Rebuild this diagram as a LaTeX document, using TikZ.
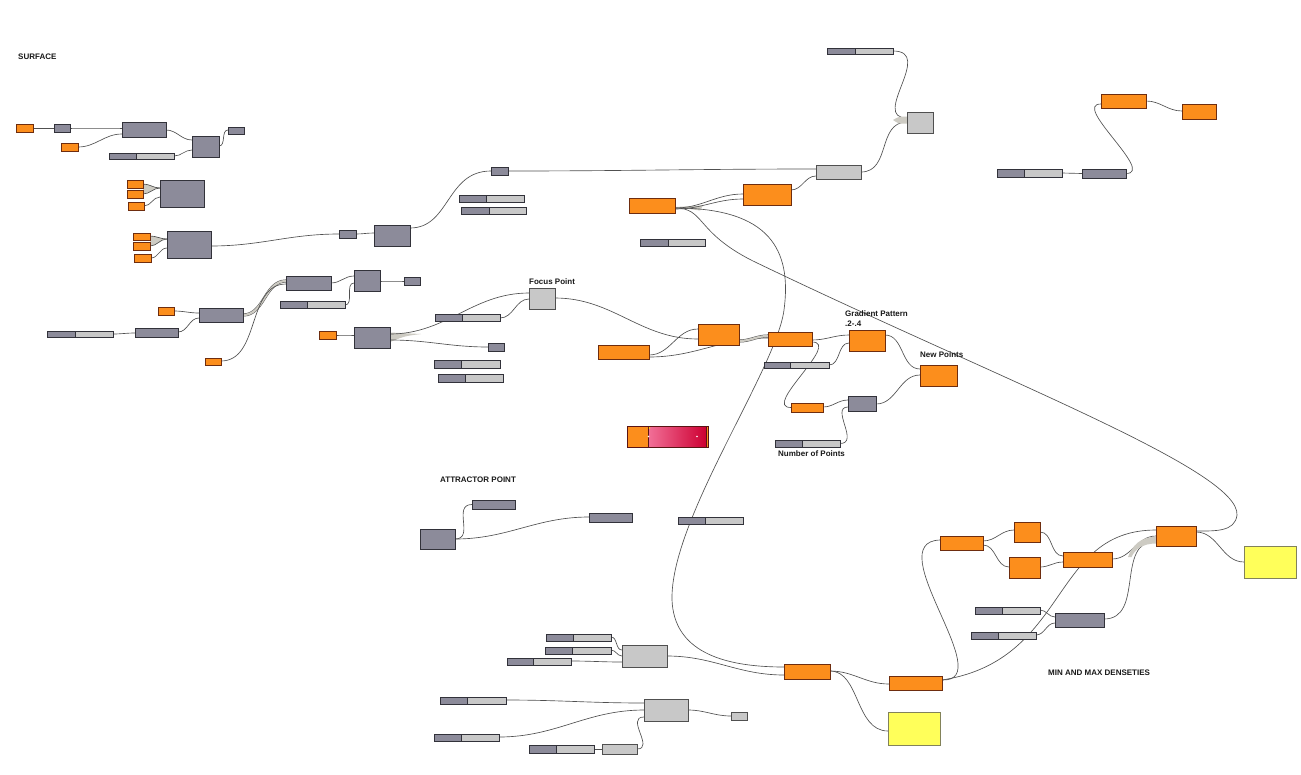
\documentclass[tikz,border=0pt]{standalone}
\usepackage{fontspec}
\setmainfont{Liberation Sans}
\usetikzlibrary{calc}
\definecolor{orF}{RGB}{252,142,28}
\definecolor{orD}{RGB}{110,45,15}
\definecolor{dkF}{RGB}{140,139,154}
\definecolor{dkD}{RGB}{50,50,58}
\definecolor{ltF}{RGB}{200,200,200}
\definecolor{ltD}{RGB}{80,80,80}
\definecolor{ylF}{RGB}{255,255,90}
\definecolor{ylD}{RGB}{130,130,90}
\definecolor{wireC}{RGB}{80,80,80}
\definecolor{bandC}{RGB}{205,203,195}
\definecolor{txtC}{RGB}{25,25,25}
\definecolor{gPink}{RGB}{242,112,152}
\definecolor{gRed}{RGB}{205,0,50}
\definecolor{gD}{RGB}{90,20,20}
\pgfdeclarelayer{bg}
\pgfsetlayers{bg,main}
\tikzset{
 base/.style={inner sep=0pt,outer sep=0pt,line width=0.8pt,anchor=north west},
 ob/.style={base,fill=orF,draw=orD},
 db/.style={base,fill=dkF,draw=dkD},
 lb/.style={base,fill=ltF,draw=ltD},
 yb/.style={base,fill=ylF,draw=ylD},
 sb/.style={base,fill=ltF,draw=dkD},
 wire/.style={draw=wireC,line width=0.65pt},
 band/.style={draw=wireC,line width=0.45pt,double=bandC,double distance=2.2pt},
 lbl/.style={inner sep=0pt,anchor=west,font=\bfseries\fontsize{8}{9.6}\selectfont,text=txtC},
}
\newcommand\bx[6]{\node[#1,minimum width={(#5-#3)*1pt},minimum height={(#6-#4)*1pt}] (#2) at (#3,#4) {};}
\newcommand\slid[6]{%
 \bx{sb}{#1}{#2}{#3}{#4}{#5}
 \fill[dkF] (#2,#3) rectangle (#6,#5);
 \draw[draw=dkD,line width=0.8pt] (#2,#3) rectangle (#4,#5) (#6,#3) -- (#6,#5);}
\newcommand\wc[4]{\draw[wire] (#1.east |- 0,#2) to[out=0,in=180] (#3.west |- 0,#4);}
\newcommand\wdg[6]{%
 \fill[bandC] (#1.east |- 0,#2) to[out=0,in=180] (#5.west |- 0,#6) to[out=180,in=0] (#3.east |- 0,#4) -- cycle;
 \draw[wire] (#1.east |- 0,#2) to[out=0,in=180] (#5.west |- 0,#6);
 \draw[wire] (#3.east |- 0,#4) to[out=0,in=180] (#5.west |- 0,#6);}
\begin{document}
\begin{tikzpicture}[x=1pt,y=-1pt]
\useasboundingbox (0,0) rectangle (1301,774);
\begin{pgfonlayer}{bg}
\fill[white] (0,0) rectangle (1301,774);
\end{pgfonlayer}
% ---------- SURFACE group
\bx{ob}{o1}{16}{124}{33}{132}
\bx{db}{d1}{54}{124}{70}{132}
\bx{db}{d2}{122}{122}{166}{137}
\bx{ob}{o2}{61}{143}{78}{151}
\slid{s1}{109}{153}{174}{159}{136}
\bx{db}{d3}{192}{136}{219}{157}
\bx{db}{d4}{228}{127}{244}{134}
\bx{db}{d5}{160}{180}{204}{207}
\bx{ob}{o3}{127}{180}{143}{188}
\bx{ob}{o4}{127}{190}{143}{198}
\bx{ob}{o5}{128}{202}{144}{210}
\bx{db}{d6}{167}{231}{211}{258}
\bx{ob}{o6}{133}{233}{150}{240}
\bx{ob}{o7}{133}{242}{150}{250}
\bx{ob}{o8}{134}{254}{151}{262}
\bx{db}{dd7}{339}{230}{356}{238}
\bx{db}{d8}{374}{225}{410}{246}
\bx{db}{dd9}{491}{167}{508}{175}
\slid{s2}{459}{195}{524}{202}{486}
\slid{s3}{461}{207}{526}{214}{489}
\bx{ob}{o9}{158}{307}{174}{315}
\bx{db}{d10}{199}{308}{243}{322}
\slid{s4}{47}{331}{113}{337}{75}
\bx{db}{d11}{135}{328}{178}{337}
\bx{ob}{o10}{205}{358}{221}{365}
\bx{db}{d12}{286}{276}{331}{290}
\slid{s5}{280}{301}{345}{308}{307}
\bx{db}{d13}{354}{270}{380}{291}
\bx{db}{dd14}{404}{277}{420}{285}
\bx{ob}{o11}{319}{331}{336}{339}
\bx{db}{d15}{354}{327}{390}{348}
\slid{s6}{435}{314}{500}{321}{462}
\bx{lb}{fp}{529}{288}{555}{309}
\bx{db}{dd16}{488}{343}{504}{351}
\slid{s7}{434}{360}{500}{368}{461}
\slid{s8}{438}{374}{503}{382}{465}
% ---------- centre group
\bx{ob}{o12}{698}{324}{739}{345}
\bx{ob}{o13}{598}{345}{649}{359}
\bx{ob}{o14}{768}{332}{812}{346}
\slid{s9}{764}{362}{829}{368}{790}
\bx{ob}{og}{849}{330}{885}{351}
\bx{ob}{onp}{920}{365}{957}{386}
\bx{ob}{os}{791}{403}{823}{412}
\bx{db}{dn}{848}{396}{876}{411}
\slid{s10}{775}{440}{840}{447}{802}
% gradient widget
\bx{ob}{gw}{627}{426}{708}{447}
\shade[left color=gPink,right color=gRed] (648,426) rectangle (706,447);
\draw[draw=gD,line width=0.8pt] (627,426) rectangle (708,447) (648,426) -- (648,447) (706,426) -- (706,447);
\fill[yellow!80!orange] (649.5,428) circle (0.9pt);
\fill[white] (648.5,436.5) circle (0.8pt);
\fill[white] (697,436.5) circle (0.8pt);
% ---------- top group
\slid{s11}{827}{48}{893}{54}{855}
\bx{lb}{sq}{907}{112}{933}{133}
\bx{lb}{l1}{816}{165}{861}{179}
\bx{ob}{o15}{743}{184}{791}{205}
\bx{ob}{o16}{629}{198}{675}{213}
\slid{s12}{640}{239}{705}{246}{668}
\bx{ob}{o17}{1101}{94}{1146}{108}
\bx{ob}{o18}{1182}{104}{1216}{119}
\slid{s13}{997}{169}{1062}{177}{1024}
\bx{db}{d17}{1082}{169}{1126}{178}
% ---------- attractor
\bx{db}{ata}{420}{529}{455}{549}
\bx{db}{atb}{472}{500}{515}{509}
\bx{db}{atc}{589}{513}{632}{522}
\slid{s14}{678}{517}{743}{524}{705}
% ---------- bottom group
\slid{s15}{546}{634}{611}{641}{573}
\slid{s16}{545}{647}{611}{654}{572}
\slid{s17}{507}{658}{571}{665}{533}
\bx{lb}{lbb}{622}{645}{667}{667}
\slid{s18}{440}{697}{506}{704}{467}
\slid{s19}{434}{734}{499}{741}{461}
\slid{s20}{529}{745}{594}{753}{556}
\bx{lb}{lc}{602}{744}{637}{754}
\bx{lb}{ld}{644}{699}{688}{721}
\bx{lb}{le}{731}{712}{747}{720}
\bx{ob}{ob1}{784}{664}{830}{679}
\bx{ob}{ob2}{889}{676}{942}{690}
\bx{yb}{yb1}{888}{712}{940}{745}
% ---------- right group
\bx{ob}{o20}{940}{536}{983}{550}
\bx{ob}{o21}{1014}{522}{1040}{542}
\bx{ob}{o22}{1009}{557}{1040}{578}
\bx{ob}{o23}{1063}{552}{1112}{567}
\bx{ob}{o24}{1156}{526}{1196}{546}
\bx{yb}{yb2}{1244}{546}{1296}{578}
\slid{s21}{975}{607}{1040}{614}{1002}
\slid{s22}{971}{632}{1036}{639}{998}
\bx{db}{d20}{1055}{613}{1104}{627}
% ---------- labels
\node[lbl] (tsurf) at (18,57) {SURFACE};
\node[lbl] (tfocus) at (529,282) {Focus Point};
\node[lbl] (tgrad) at (845,314) {Gradient Pattern};
\node[lbl] (tgrad2) at (845,323.5) {.2-.4};
\node[lbl] (tnew) at (920,355) {New Points};
\node[lbl] (tnum) at (778,454) {Number of Points};
\node[lbl] (tattr) at (440,480) {ATTRACTOR POINT};
\node[lbl] (tmin) at (1048,673) {MIN AND MAX DENSETIES};
% ---------- wires
\begin{pgfonlayer}{bg}
\draw[wire] (o1.east) -- (d1.west);
\wc{d1}{128}{d2}{128}
\wc{o2}{147}{d2}{134}
\wc{d2}{130}{d3}{140}
\wc{s1}{156}{d3}{150}
\wc{d3}{146}{d4}{130}
\wdg{o3}{184}{o4}{194}{d5}{188}
\wc{o5}{206}{d5}{197}
\wdg{o6}{236}{o7}{246}{d6}{239}
\wc{o8}{258}{d6}{248}
\wc{d6}{246}{dd7}{234}
\wc{dd7}{234}{d8}{233}
\draw[wire] (d8.east |- 0,228) .. controls +(40,0) and +(-45,0) .. (dd9.west);
\wc{dd9}{171}{l1}{169}
\wc{o9}{311}{d10}{313}
\wc{s4}{334}{d11}{333}
\wc{d11}{332}{d10}{318}
\draw[band] (d10.east |- 0,315) to[out=0,in=180] (d12.west |- 0,281);
\wc{o10}{361}{d12}{284}
\wc{d12}{283}{d13}{276}
\wc{s5}{305}{d13}{283}
\wc{d13}{281}{dd14}{281}
\wc{o11}{335}{d15}{335}
\fill[bandC] (d15.east |- 0,332.5) .. controls (405,333) .. (421,334) .. controls (405,336) .. (d15.east |- 0,342) -- cycle;
\wc{d15}{334}{fp}{293}
\wc{d15}{340}{dd16}{347}
\wc{s6}{318}{fp}{299}
\draw[wire] (fp.east |- 0,298) to[out=0,in=180] (o12.west |- 0,339);
\wc{o13}{355}{o12}{329}
\wc{o13}{357}{o14}{338}
\draw[band] (o12.east |- 0,341) to[out=0,in=180] (o14.west |- 0,336);
\wc{o14}{340}{og}{335}
\wc{s9}{365}{og}{343}
\wc{og}{335}{onp}{369}
\draw[wire] (o14.east |- 0,342) .. controls +(30,0) and +(-30,0) .. (os.west);
\wc{os}{407}{dn}{400}
\draw[wire] (s10.east) .. controls +(20,0) and +(-18,0) .. (dn.west |- 0,407);
\wc{dn}{404}{onp}{375}
% top
\fill[bandC] (o16.east |- 0,207) -- (703,205.5) -- (700,210.5) -- cycle;
\wc{o16}{208}{o15}{194}
\wc{o16}{209}{o15}{199}
\wc{o15}{190}{l1}{176}
\draw[wire] (l1.east) .. controls +(30,0) and +(-30,0) .. (sq.west |- 0,122);
\draw[wire] (s11.east) .. controls +(42,0) and +(-37,0) .. (sq.west |- 0,118);
\fill[bandC] (sq.west |- 0,116.5) .. controls (899,116.5) .. (893,120) .. controls (899,124) .. (sq.west |- 0,123.5) -- cycle;
\draw[wire] (s13.east) -- (d17.west);
\draw[wire] (d17.east) .. controls +(30,0) and +(-30,0) .. (o17.west |- 0,104);
\wc{o17}{101}{o18}{111}
% long curves from o16
\draw[wire] (o16.east |- 0,208) .. controls (770,208) and (792,250) .. (784,310) .. controls (776,370) and (670,520) .. (672,600) .. controls (674,650) and (720,667) .. (ob1.west |- 0,667);
\draw[wire] (o16.east |- 0,208) .. controls (705,208) and (695,232) .. (753,261) .. controls (1000,380) and (1240,470) .. (1237,515) .. controls (1235,532) and (1215,531) .. (o24.east |- 0,531);
% attractor
\draw[wire] (ata.east |- 0,539) .. controls +(20,0) and +(-20,0) .. (atb.west);
\wc{ata}{539}{atc}{517}
% bottom
\wc{s15}{637}{lbb}{650}
\wc{s16}{650}{lbb}{656}
\wc{s17}{661}{lbb}{662}
\wc{lbb}{656}{ob1}{675}
\wc{s18}{700}{ld}{703}
\wc{s19}{737}{ld}{710}
\draw[wire] (lc.east) .. controls +(18,0) and +(-19,0) .. (ld.west |- 0,717);
\draw[wire] (s20.east) -- (lc.west);
\wc{ld}{710}{le}{716}
\draw[wire] (ob1.east |- 0,671) .. controls +(30,0) and +(-33,0) .. (yb1.west |- 0,731);
\wc{ob1}{671}{ob2}{684}
% right
\draw[wire] (ob2.east |- 0,680) .. controls (1000,682) and (878,542) .. (o20.west |- 0,540);
\draw[wire] (ob2.east |- 0,680) .. controls (1070,660) and (1050,530) .. (o24.west |- 0,530);
\wc{o20}{541}{o21}{530}
\wc{o20}{545}{o22}{567}
\wc{o21}{532}{o23}{556}
\wc{o22}{567}{o23}{562}
\wc{o23}{559}{o24}{536}
\wc{s21}{610}{d20}{617}
\wc{s22}{635}{d20}{623}
\draw[wire] (d20.east |- 0,619) .. controls (1145,619) and (1115,541) .. (o24.west |- 0,541);
\fill[bandC] (o24.west |- 0,536.5) .. controls (1140,537) and (1132,546) .. (1128,557) -- (1131.5,557) .. controls (1135,549) and (1143,543.5) .. (o24.west |- 0,543.5) -- cycle;
\wc{o24}{532}{yb2}{562}
\end{pgfonlayer}
\end{tikzpicture}
\end{document}
